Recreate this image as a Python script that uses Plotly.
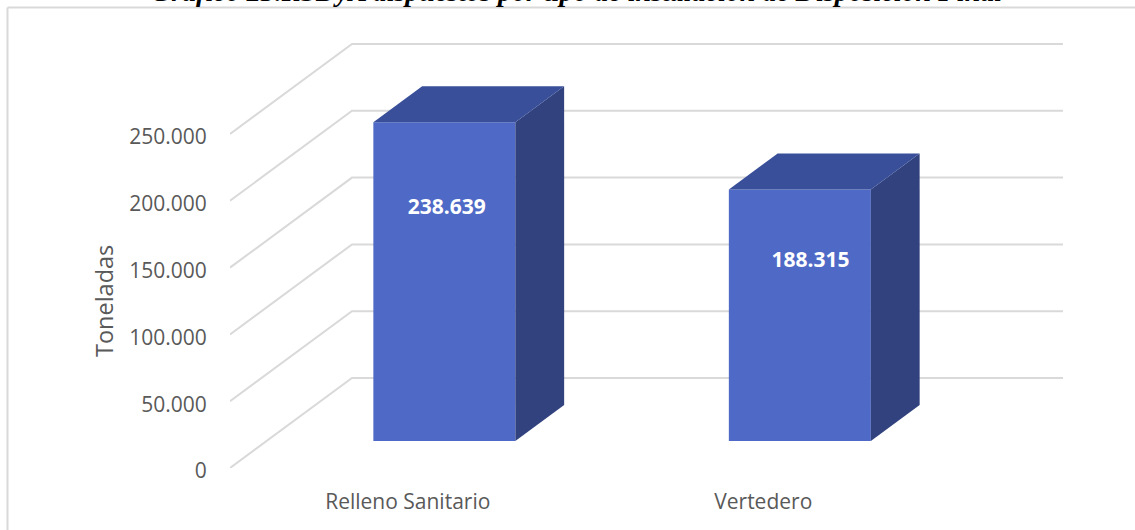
import plotly.graph_objects as go

categories = ["Relleno Sanitario", "Vertedero"]
values = [238639, 188315]
y_ticks = [0, 50000, 100000, 150000, 200000, 250000]
title_text = "Gráfico 23.RSDyA dispuestos por tipo de instalación de Disposición Final"
y_title = "Toneladas"
label_fraction = [0.728, 0.712]
label_shift = [0.007, 0.03]

# chart frame in pixels
W, H = 1135, 530
L, R, T, B = 230, 1063, 38, 468
cat_px = 355.5
val_px = 334 / 250000
depth_dx = 122 / cat_px        # category units
depth_dy = 90 / val_px         # value units
d0, d1 = 0.3, 0.7
bar_w = 142 / cat_px

x_range = [-0.5, -0.5 + (R - L) / cat_px]
y_range = [0, (B - T) / val_px]

FRONT, SIDE, TOP = "#4F69C6", "#31427F", "#394F9A"
GRID = "#D9D9D9"
TXT = "#595959"
FONT = "Open Sans"

fig = go.Figure()

# front faces
fig.add_trace(go.Bar(
    x=[i + d0 * depth_dx for i in range(len(values))],
    y=values,
    base=d0 * depth_dy,
    width=bar_w,
    marker=dict(color=FRONT, line=dict(width=0)),
    hoverinfo="skip",
))

# side and top faces
for i, v in enumerate(values):
    xl = i + d0 * depth_dx - bar_w / 2
    xr = xl + bar_w
    dx = (d1 - d0) * depth_dx
    dy = (d1 - d0) * depth_dy
    y0 = d0 * depth_dy
    fig.add_trace(go.Scatter(
        x=[xr, xr + dx, xr + dx, xr, xr],
        y=[y0, y0 + dy, y0 + dy + v, y0 + v, y0],
        mode="lines", fill="toself", fillcolor=SIDE,
        line=dict(width=0, color=SIDE), hoverinfo="skip",
    ))
    fig.add_trace(go.Scatter(
        x=[xl, xl + dx, xr + dx, xr, xl],
        y=[y0 + v, y0 + v + dy, y0 + v + dy, y0 + v, y0 + v],
        mode="lines", fill="toself", fillcolor=TOP,
        line=dict(width=0, color=TOP), hoverinfo="skip",
    ))

# data labels
fig.add_trace(go.Scatter(
    x=[i + d0 * depth_dx + s for i, s in enumerate(label_shift)],
    y=[d0 * depth_dy + v * f for v, f in zip(values, label_fraction)],
    mode="text",
    text=[f"{v:,d}".replace(",", ".") for v in values],
    textposition="middle center",
    textfont=dict(family=FONT, size=21, color="#FFFFFF", weight="bold"),
    hoverinfo="skip",
))

# oblique gridlines behind the bars
shapes = []
for t in y_ticks:
    xa, xb = x_range[0], x_range[0] + depth_dx
    xc = x_range[1]
    shapes.append(dict(
        type="path", xref="x", yref="y", layer="below",
        path=f"M {xa} {t} L {xb} {t + depth_dy} L {xc} {t + depth_dy}",
        line=dict(color=GRID, width=2),
    ))

# outer frame (left and top edges), in paper fractions of the plot area
def px(x):
    return (x - L) / (R - L)
def py(y):
    return (B - y) / (B - T)
shapes.append(dict(type="line", xref="paper", yref="paper",
                   x0=px(7.5), x1=px(7.5), y0=py(7.5), y1=py(530),
                   line=dict(color=GRID, width=2), layer="below"))
shapes.append(dict(type="line", xref="paper", yref="paper",
                   x0=px(7.5), x1=px(1135), y0=py(7.5), y1=py(7.5),
                   line=dict(color=GRID, width=2), layer="below"))

fig.update_layout(
    width=W, height=H, autosize=False,
    margin=dict(l=L, r=W - R, t=T, b=H - B),
    paper_bgcolor="white", plot_bgcolor="white",
    showlegend=False, separators=",.",
    shapes=shapes,
    xaxis=dict(
        range=x_range, tickmode="array", tickvals=list(range(len(categories))),
        ticktext=categories, showgrid=False, zeroline=False, showline=False,
        ticks="outside", ticklen=15, tickcolor="rgba(0,0,0,0)",
        tickfont=dict(family=FONT, size=21, color=TXT),
    ),
    yaxis=dict(
        range=y_range, tickmode="array", tickvals=y_ticks, tickformat=",d",
        showgrid=False, zeroline=False, showline=False,
        ticks="outside", ticklen=18, tickcolor="rgba(0,0,0,0)",
        ticklabelshift=3,
        tickfont=dict(family=FONT, size=21, color=TXT),
    ),
    annotations=[
        dict(
            text=f"<b><i>{title_text}</i></b>", xref="paper", yref="paper",
            x=px(576), y=py(8.7), xanchor="center", yanchor="bottom", showarrow=False,
            font=dict(family="Liberation Serif", size=28, color="#000000"),
        ),
        dict(
            text=y_title, xref="paper", yref="paper", x=px(104), y=py(301),
            xanchor="center", yanchor="middle", textangle=-90, showarrow=False,
            font=dict(family=FONT, size=23.5, color=TXT),
        ),
    ],
)

fig.write_html("out.html", config=dict(displayModeBar=False),
               post_script="document.body.style.margin='0';")
